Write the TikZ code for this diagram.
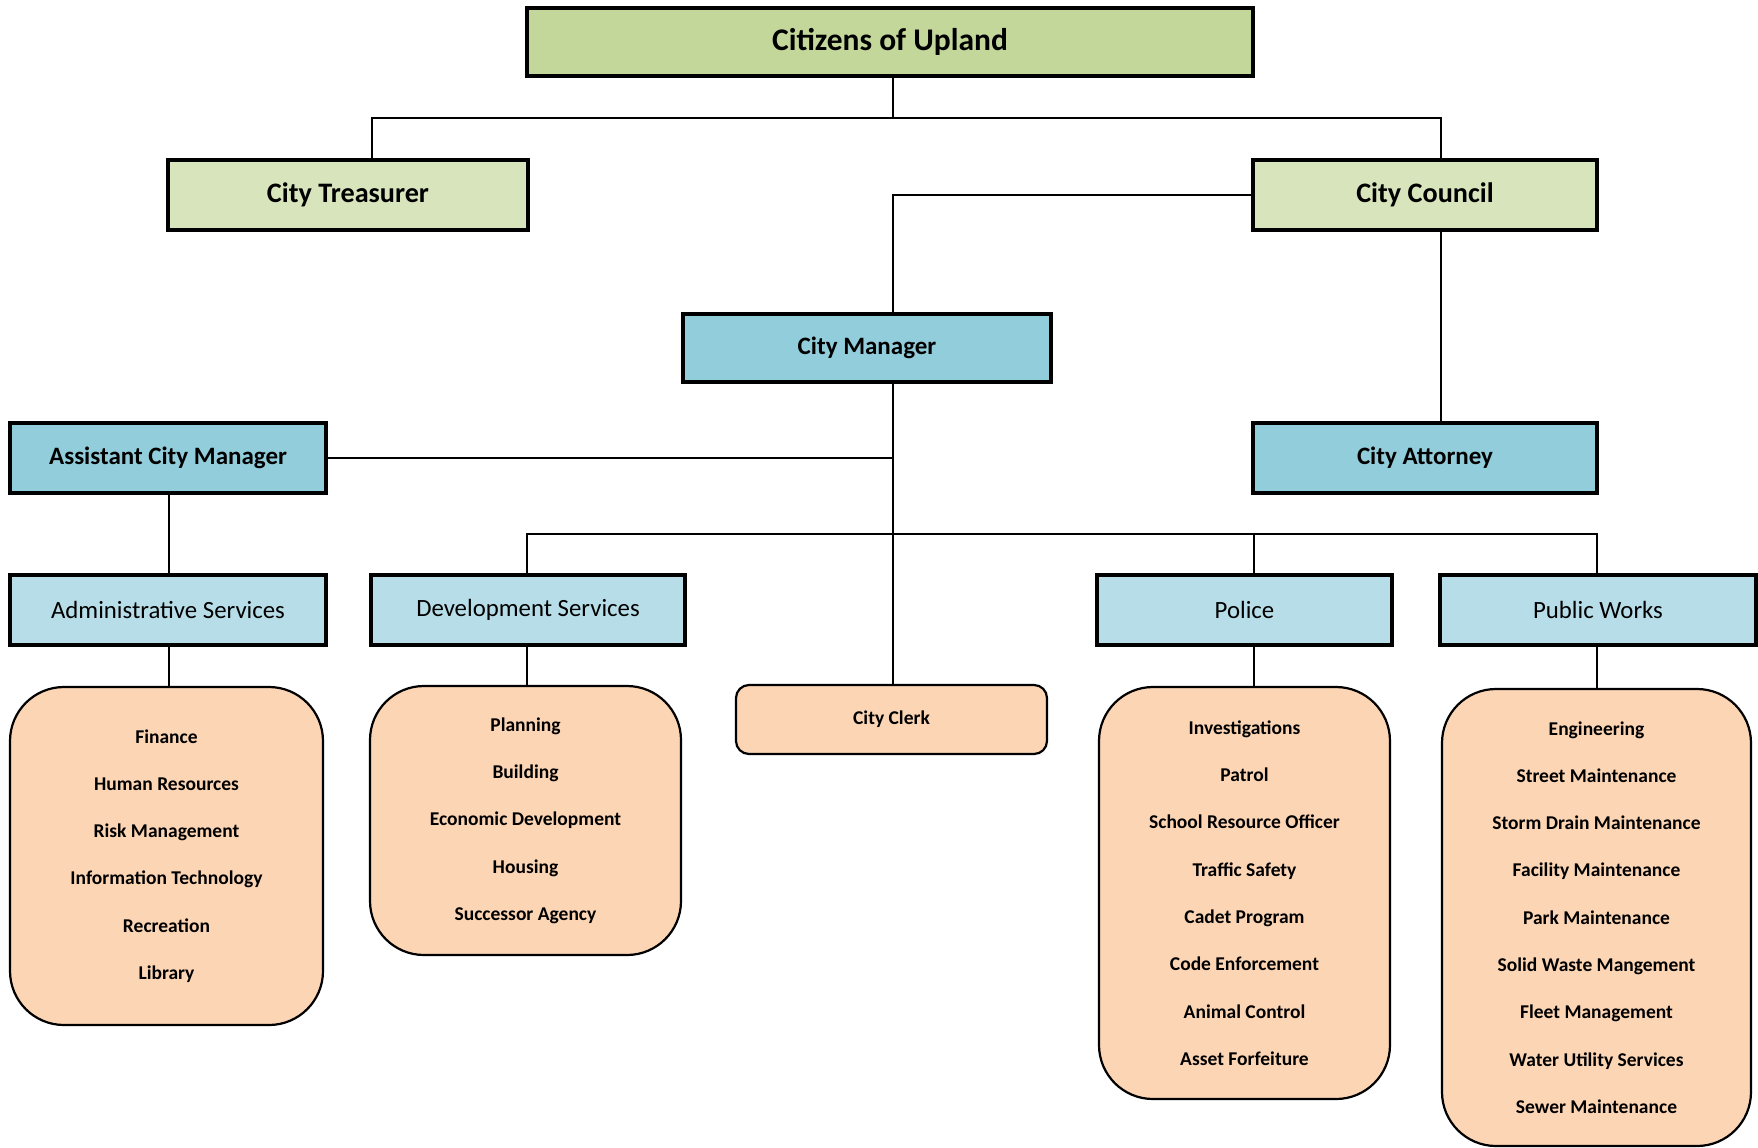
\documentclass[tikz,border=0pt]{standalone}
\usepackage{fontspec}
\setmainfont{Carlito}
\definecolor{citc}{HTML}{C4D79B}
\definecolor{gov}{HTML}{D8E4BC}
\definecolor{mgr}{HTML}{92CDDC}
\definecolor{dept}{HTML}{B7DEE8}
\definecolor{unit}{HTML}{FCD5B4}
\begin{document}
\begin{tikzpicture}[x=0.5pt,y=-0.5pt,
  hbox/.style={draw=black,line width=1.8pt,inner sep=0pt,outer sep=0pt,align=center},
  ubox/.style={draw=black,line width=1.1pt,fill=unit,rounded corners=27pt,inner sep=0pt,outer sep=0pt,align=center,font=\fontsize{9.75}{23.65}\selectfont\bfseries},
  conn/.style={draw=black,line width=0.8pt}]
\useasboundingbox[fill=white] (0,0) rectangle (1758,1147);

% top levels
\node[hbox,fill=citc,minimum width=363pt,minimum height=34pt,font=\fontsize{15.75}{18}\selectfont\bfseries] (cit) at (890,42) {Citizens of Upland};
\node[hbox,fill=gov,minimum width=180pt,minimum height=35pt,font=\fontsize{14.1}{17}\selectfont\bfseries] (treas) at (348,195) {City Treasurer};
\node[hbox,fill=gov,minimum width=172pt,minimum height=35pt,font=\fontsize{14.1}{17}\selectfont\bfseries] (council) at (1425,195) {City Council};
\node[hbox,fill=mgr,minimum width=184pt,minimum height=34pt,font=\fontsize{12.5}{15}\selectfont\bfseries] (cm) at (867,348) {City Manager};
\node[hbox,fill=mgr,minimum width=158pt,minimum height=35pt,font=\fontsize{12.5}{15}\selectfont\bfseries] (acm) at (168,458) {Assistant City Manager};
\node[hbox,fill=mgr,minimum width=172pt,minimum height=35pt,font=\fontsize{12.5}{15}\selectfont\bfseries] (att) at (1425,458) {City Attorney};

% departments
\node[hbox,fill=dept,minimum width=158pt,minimum height=35pt,font=\fontsize{12.4}{15}\selectfont] (adm) at (168,610) {Administrative Services};
\node[hbox,fill=dept,minimum width=157pt,minimum height=35pt,font=\fontsize{12.4}{15}\selectfont] (dev) at (528,610) {Development Services};
\node[hbox,fill=dept,minimum width=147.5pt,minimum height=35pt,font=\fontsize{12.4}{15}\selectfont] (pol) at (1244.5,610) {Police};
\node[hbox,fill=dept,minimum width=158pt,minimum height=35pt,font=\fontsize{12.4}{15}\selectfont] (pw) at (1598,610) {Public Works};

% units
\node[ubox,minimum width=156.5pt,minimum height=169pt] (admL) at (166.5,856)
 {Finance\\Human Resources\\Risk Management\\Information Technology\\Recreation\\Library};
\node[ubox,minimum width=155.5pt,minimum height=134.5pt] (devL) at (525.5,820.5)
 {Planning\\Building\\Economic Development\\Housing\\Successor Agency};
\node[ubox,rounded corners=6.5pt,minimum width=155.5pt,minimum height=34.5pt] (clerk) at (891.5,719.5) {City Clerk};
\node[ubox,minimum width=145.5pt,minimum height=206pt] (polL) at (1244.5,893)
 {Investigations\\Patrol\\School Resource Officer\\Traffic Safety\\Cadet Program\\Code Enforcement\\Animal Control\\Asset Forfeiture};
\node[ubox,minimum width=154.5pt,minimum height=228.5pt] (pwL) at (1596.5,917.5)
 {Engineering\\Street Maintenance\\Storm Drain Maintenance\\Facility Maintenance\\Park Maintenance\\Solid Waste Mangement\\Fleet Management\\Water Utility Services\\Sewer Maintenance};

% junction coordinates
\coordinate (j0) at (893,118);
\coordinate (jt) at (372,118);
\coordinate (jc) at (1441,118);
\coordinate (jm) at (893,195);
\coordinate (ja) at (893,458);
\coordinate (bus) at (893,534);
\coordinate (bd) at (527,534);
\coordinate (bp) at (1254,534);
\coordinate (bw) at (1597,534);
\coordinate (xa) at (169,0);

% connectors
\draw[conn] (cit.south -| j0) -- (j0);
\draw[conn] (jt |- treas.north) -- (jt) -- (jc) -- (jc |- council.north);
\draw[conn] (council.west |- jm) -- (jm) -- (jm |- cm.north);
\draw[conn] (jc |- council.south) -- (jc |- att.north);
\draw[conn] (j0 |- cm.south) -- (j0 |- clerk.north);
\draw[conn] (acm.east |- ja) -- (ja);
\draw[conn] (bd |- dev.north) -- (bd) -- (bw) -- (bw |- pw.north);
\draw[conn] (bp) -- (bp |- pol.north);
\draw[conn] (xa |- acm.south) -- (xa |- adm.north);
\draw[conn] (xa |- adm.south) -- (xa |- admL.north);
\draw[conn] (bd |- dev.south) -- (bd |- devL.north);
\draw[conn] (bp |- pol.south) -- (bp |- polL.north);
\draw[conn] (bw |- pw.south) -- (bw |- pwL.north);
\end{tikzpicture}
\end{document}
